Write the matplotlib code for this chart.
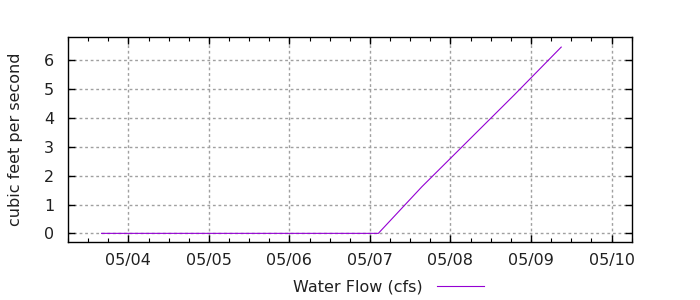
import matplotlib
matplotlib.use("Agg")
import matplotlib.pyplot as plt
import matplotlib.dates as mdates
import numpy as np
import pandas as pd

# flow readings (cfs)
times = pd.to_datetime([
    "2024-05-03 16:00",
    "2024-05-07 02:30",
    "2024-05-07 15:30",
    "2024-05-08 19:00",
    "2024-05-09 09:00",
])
flow = [0.0, 0.0, 1.62, 4.80, 6.46]

series_label = "Water Flow (cfs)"
y_label = "cubic feet per second"
y_ticks = [0, 1, 2, 3, 4, 5, 6]

fs = 11.5
fig = plt.figure(figsize=(7, 3), dpi=100)
ax = fig.add_axes([0.0971, 0.1933, 0.9024 - 0.0971, 0.8757 - 0.1933])

ax.plot(times, flow, color="#9400d3", lw=0.8, label=series_label)

ax.set_xlim(pd.Timestamp("2024-05-03 06:00"), pd.Timestamp("2024-05-10 06:00"))
ax.set_ylim(-0.3, 6.8)
ax.set_yticks(y_ticks)

ax.xaxis.set_major_locator(mdates.DayLocator())
ax.xaxis.set_minor_locator(mdates.HourLocator(byhour=[0, 6, 12, 18]))
ax.xaxis.set_major_formatter(mdates.DateFormatter("%m/%d"))

ax.tick_params(which="both", direction="in", top=True, right=True, labelsize=fs,
               color="black", labelcolor="#202020")
ax.tick_params(which="major", length=5, width=1, pad=8)
ax.tick_params(which="minor", length=3, width=0.8)
ax.tick_params(axis="y", pad=10)

for s in ax.spines.values():
    s.set_linewidth(1)

ax.grid(True, which="major", color="#a0a0a0", ls=(0, (2, 2)), lw=1)
ax.set_ylabel(y_label, fontsize=fs, color="#202020", labelpad=15)

ax.legend(loc="center", bbox_to_anchor=(0.5686, -0.219), frameon=False, fontsize=fs,
          markerfirst=False, handlelength=2.9, handletextpad=0.9, labelcolor="#202020")

fig.savefig("out.png")
